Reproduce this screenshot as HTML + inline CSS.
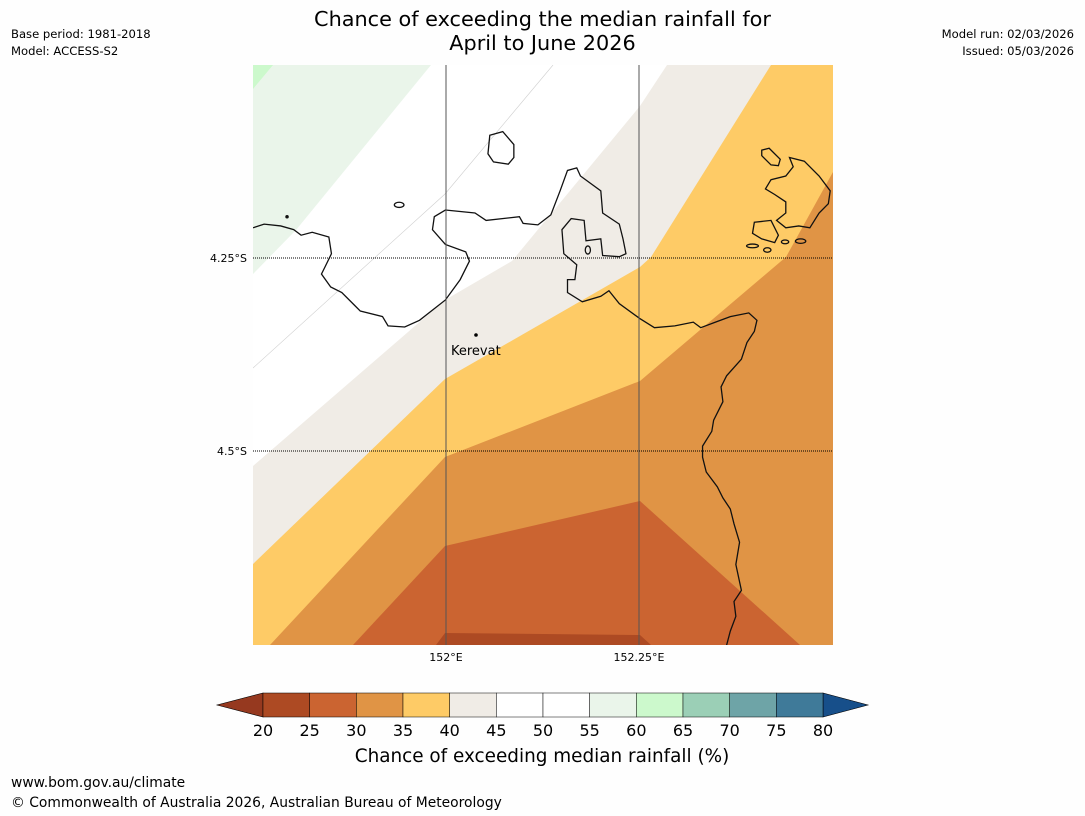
<!DOCTYPE html>
<html><head><meta charset="utf-8"><style>
body{margin:0;background:#fff;font-family:"Liberation Sans","DejaVu Sans",sans-serif;}
#root{position:relative;width:1085px;height:816px;overflow:hidden;background:#fefefe;}
.t{position:absolute;white-space:nowrap;color:#000;}
</style></head><body>
<div id="root">
<div class="t" style="left:0;width:1085px;top:7px;text-align:center;font-family:'DejaVu Sans',sans-serif;font-size:20.8px;line-height:24px;">Chance of exceeding the median rainfall for<br>April to June 2026</div>
<div class="t" style="left:11px;top:27px;font-size:11.6px;font-family:'DejaVu Sans',sans-serif;">Base period: 1981-2018</div>
<div class="t" style="left:11px;top:44px;font-size:11.6px;font-family:'DejaVu Sans',sans-serif;">Model: ACCESS-S2</div>
<div class="t" style="right:11px;top:27px;font-size:11.6px;font-family:'DejaVu Sans',sans-serif;text-align:right;">Model run: 02/03/2026</div>
<div class="t" style="right:11px;top:44px;font-size:11.6px;font-family:'DejaVu Sans',sans-serif;text-align:right;">Issued: 05/03/2026</div>
<div class="t" style="left:11px;top:775px;font-size:13.85px;font-family:'DejaVu Sans',sans-serif;">www.bom.gov.au/climate</div>
<div class="t" style="left:11px;top:795px;font-size:13.85px;font-family:'DejaVu Sans',sans-serif;">© Commonwealth of Australia 2026, Australian Bureau of Meteorology</div>

<svg id="svg" width="1085" height="816" style="position:absolute;left:0;top:0">
<defs><clipPath id="mc"><rect x="253" y="65" width="580" height="580"/></clipPath></defs>
<g clip-path="url(#mc)">
<rect x="253" y="65" width="580" height="580" fill="#ffffff"/>
<polygon fill="#eaf5ea" points="253,65 431,65 296,230 253,274"/>
<polygon fill="#ccf9cc" points="253,65 273,65 253,89"/>
<polygon fill="#f0ece6" points="667,65 640,106 512,261 445,300 253,466 253,645 833,645 833,65"/>
<polygon fill="#fecb66" points="771,65 651,257 640,267 445,379 253,564 253,645 833,645 833,65"/>
<polygon fill="#e09445" points="833,172 786,257 640,381 445,457 270,645 833,645"/>
<polygon fill="#cb6431" points="353,645 445,546 640,501 800,645"/>
<polygon fill="#ad4a23" points="436,645 445,633 640,635 651,645"/>
<g fill="none" stroke="#cfcfcf" stroke-width="0.6">
<polyline points="553,65 445,194 253,368"/>
</g>
<g transform="translate(253,65) scale(0.37)" fill="none" stroke="#111" stroke-width="3.5">
<polyline points="0,440 30,430 75,435 110,445 130,460 160,452 205,465 212,510 195,545 185,565 210,600 240,615 275,650 290,665 350,680 365,705 410,708 450,690 520,635 560,580 585,530 575,505 520,485 485,445 490,410 520,392 600,400 630,420 720,410 730,428 770,432 805,405 830,340 850,285 875,278 885,300 940,340 945,400 990,430 1000,470 1008,510 990,518 945,515 940,470 900,475 895,420 860,415 835,445 840,510 875,540 870,580 850,580 850,615 890,640 940,625 962,610 990,645 1045,685 1085,710 1140,705 1190,695 1210,710 1250,695 1290,680 1340,670 1362,690 1355,720 1335,750 1320,795 1280,840 1265,870 1270,910 1245,960 1240,990 1215,1030 1215,1060 1225,1100 1255,1140 1270,1170 1290,1200 1300,1240 1315,1290 1305,1350 1320,1420 1300,1450 1305,1490 1290,1530 1280,1568"/>
<polygon points="640,190 675,180 705,215 705,250 690,268 650,262 635,240"/>
<ellipse cx="395" cy="378" rx="13" ry="7"/>
<polygon points="1375,230 1395,225 1425,255 1420,272 1400,270 1375,245"/>
<polygon points="1450,250 1490,260 1530,300 1560,340 1555,375 1530,400 1505,440 1475,435 1440,440 1415,420 1440,400 1440,370 1410,350 1385,335 1400,310 1440,300 1460,275"/>
<polygon points="1355,425 1400,420 1420,460 1410,480 1375,470 1350,455"/>
<ellipse cx="1350" cy="489" rx="16" ry="5"/>
<ellipse cx="1390" cy="500" rx="10" ry="6"/>
<ellipse cx="1438" cy="478" rx="10" ry="5"/>
<ellipse cx="1480" cy="476" rx="14" ry="6"/>
<ellipse cx="905" cy="500" rx="7" ry="11"/>
<circle cx="92" cy="410" r="3" fill="#111"/>
</g>
<g>
<line x1="446" y1="65" x2="446" y2="645" stroke="#555" stroke-width="1"/>
<line x1="639" y1="65" x2="639" y2="645" stroke="#555" stroke-width="1"/>
<line x1="253" y1="258" x2="833" y2="258" stroke="#000" stroke-width="1" stroke-dasharray="1,1"/>
<line x1="253" y1="451" x2="833" y2="451" stroke="#000" stroke-width="1" stroke-dasharray="1,1"/>
</g>
<circle cx="476" cy="335" r="1.8" fill="#000"/>
<text x="451" y="355" font-size="13" font-family="DejaVu Sans,sans-serif">Kerevat</text>
</g>
<g font-size="11" font-family="DejaVu Sans,sans-serif">
<text x="446" y="661" text-anchor="middle">152°E</text>
<text x="639" y="661" text-anchor="middle">152.25°E</text>
<text x="247" y="262" text-anchor="end">4.25°S</text>
<text x="247" y="455" text-anchor="end">4.5°S</text>
</g>
<g id="cbar"></g>
<text x="542" y="762" text-anchor="middle" font-size="18.4" font-family="DejaVu Sans,sans-serif">Chance of exceeding median rainfall (%)</text>
</svg>
</div>
<script>
const binEdges=[20,25,30,35,40,45,50,55,60,65,70,75,80];
const binColors=["#ad4a23","#cb6431","#e09445","#fecb66","#f0ece6","#ffffff","#ffffff","#eaf5ea","#ccf9cc","#9bcfb6","#6ea4a7","#3f7a99"];
const extendColors=["#96391f","#174f8a"];
const NS="http://www.w3.org/2000/svg";
const g=document.getElementById('cbar');
const x0=263,x1=823,yT=693,yB=717;
const sx=v=>x0+(v-binEdges[0])/(binEdges[binEdges.length-1]-binEdges[0])*(x1-x0);
function mk(t,a){const e=document.createElementNS(NS,t);for(const k in a)e.setAttribute(k,a[k]);g.appendChild(e);return e;}
let lo=mk('polygon',{points:`${x0},${yT} ${x0},${yB} 217,${(yT+yB)/2}`,fill:extendColors[0],stroke:'#000','stroke-width':0.6});


let hi=mk('polygon',{points:`${x1},${yT} ${x1},${yB} 868,${(yT+yB)/2}`,fill:extendColors[1],stroke:'#000','stroke-width':0.6});


for(let i=0;i<binColors.length;i++){
 const a=sx(binEdges[i]),b=sx(binEdges[i+1]);
 const r=mk('rect',{x:a,y:yT,width:b-a,height:yB-yT,fill:binColors[i],stroke:'#000','stroke-width':0.5});
 
 
}
binEdges.forEach(v=>{
 const t=mk('text',{x:sx(v),y:736,'text-anchor':'middle','font-size':16,'font-family':'DejaVu Sans,sans-serif'});
 t.textContent=v;
 
 
});
</script>
</body></html>
